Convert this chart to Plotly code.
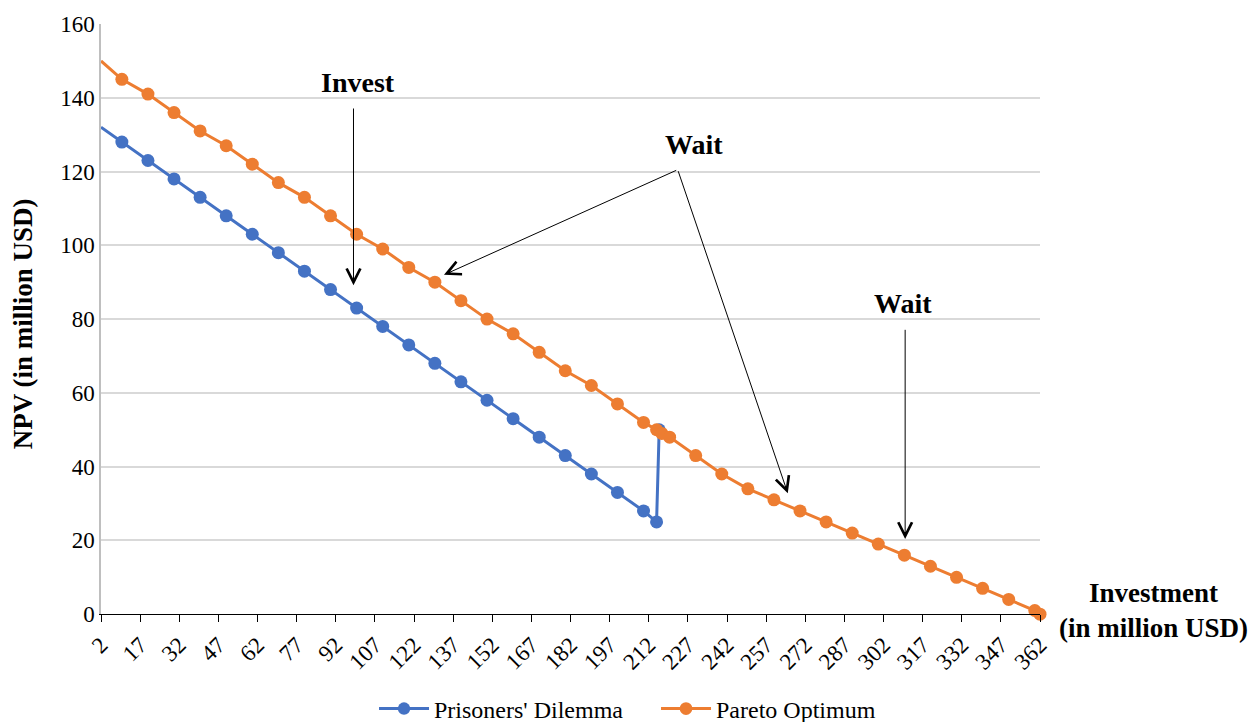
import plotly.graph_objects as go

# Investment levels (million USD) and NPV (million USD) for each strategy
pd_invest = [2, 10, 20, 30, 40, 50, 60, 70, 80, 90, 100, 110, 120, 130, 140,
             150, 160, 170, 180, 190, 200, 210, 215, 216]
pd_npv = [132, 128, 123, 118, 113, 108, 103, 98, 93, 88, 83, 78, 73, 68, 63,
          58, 53, 48, 43, 38, 33, 28, 25, 50]

po_invest = [2, 10, 20, 30, 40, 50, 60, 70, 80, 90, 100, 110, 120, 130, 140,
             150, 160, 170, 180, 190, 200, 210, 215, 217, 220, 230, 240, 250,
             260, 270, 280, 290, 300, 310, 320, 330, 340, 350, 360, 362]
po_npv = [150, 145, 141, 136, 131, 127, 122, 117, 113, 108, 103, 99, 94, 90, 85,
          80, 76, 71, 66, 62, 57, 52, 50, 49, 48, 43, 38, 34,
          31, 28, 25, 22, 19, 16, 13, 10, 7, 4, 1, 0]

x_ticks = list(range(2, 363, 15))
y_ticks = [0, 20, 40, 60, 80, 100, 120, 140, 160]

BLUE = "#4472C4"
ORANGE = "#ED7D31"
FONT = "Liberation Serif"


def marker_sizes(n, size=13):
    # the opening point of each series is drawn without a marker
    return [0] + [size] * (n - 1)


fig = go.Figure()
fig.add_trace(go.Scatter(
    x=pd_invest, y=pd_npv, name="Prisoners' Dilemma", mode="lines+markers",
    line=dict(color=BLUE, width=3),
    marker=dict(color=BLUE, size=marker_sizes(len(pd_invest)), opacity=1,
                line=dict(width=0)),
    cliponaxis=False,
))
fig.add_trace(go.Scatter(
    x=po_invest, y=po_npv, name="Pareto Optimum", mode="lines+markers",
    line=dict(color=ORANGE, width=3),
    marker=dict(color=ORANGE, size=marker_sizes(len(po_invest)), opacity=1,
                line=dict(width=0)),
    cliponaxis=False,
))

# Decision labels and their arrows
labels = [("Invest", 100.5, 144.2), ("Wait", 229.3, 127.3), ("Wait", 309.4, 84.3)]
arrows = [  # (tail x, tail y, tip x, tip y)
    (98.8, 137.5, 98.8, 89.2),
    (223.1, 120.5, 133.5, 92.0),
    (223.1, 120.5, 265.3, 32.8),
    (310.3, 77.5, 310.3, 20.4),
]

annotations = []
for text, lx, ly in labels:
    annotations.append(dict(
        x=lx, y=ly, xref="x", yref="y", text=f"<b>{text}</b>", showarrow=False,
        font=dict(family=FONT, size=28, color="black"),
        xanchor="center", yanchor="middle",
    ))
for tx, ty, hx, hy in arrows:
    annotations.append(dict(
        x=hx, y=hy, ax=tx, ay=ty, xref="x", yref="y", axref="x", ayref="y",
        text="", showarrow=True, arrowhead=5, arrowsize=2.7, arrowwidth=1,
        arrowcolor="black", standoff=0, startstandoff=0,
    ))

# Axis titles
annotations.append(dict(
    x=1.1213, y=0.0067, xref="paper", yref="paper",
    text="<b>Investment<br>(in million USD)</b>", showarrow=False,
    font=dict(family=FONT, size=27, color="black"),
    xanchor="center", yanchor="middle", align="center",
))
annotations.append(dict(
    x=-0.0837, y=0.492, xref="paper", yref="paper",
    text="<b>NPV (in million USD)</b>", showarrow=False, textangle=-90,
    font=dict(family=FONT, size=27, color="black"),
    xanchor="center", yanchor="middle",
))

fig.update_layout(
    width=1253, height=722,
    margin=dict(l=101, r=213, t=18, b=103),
    paper_bgcolor="white", plot_bgcolor="white",
    font=dict(family=FONT, size=23, color="black"),
    showlegend=True,
    legend=dict(
        orientation="h", xref="container", yref="container",
        x=0.2985, xanchor="left", y=0.018, yanchor="middle",
        font=dict(family=FONT, size=24, color="black"),
        itemwidth=50, entrywidth=217, entrywidthmode="pixels",
    ),
    annotations=annotations,
)

fig.update_xaxes(
    range=[2, 362], tickmode="array", tickvals=x_ticks,
    ticktext=[str(v) for v in x_ticks], tickangle=-45,
    showgrid=False, zeroline=False,
    showline=True, linecolor="black", linewidth=1.3,
    ticks="outside", ticklen=7, tickwidth=1.3, tickcolor="black",
    tickfont=dict(family=FONT, size=23, color="black"),
)
fig.update_yaxes(
    range=[0, 160], tickmode="array", tickvals=y_ticks,
    showgrid=True, gridcolor="#d9d9d9", gridwidth=1.5,
    zeroline=False, showline=True, linecolor="#bfbfbf", linewidth=1.5,
    ticks="", ticklabelstandoff=0,
    tickfont=dict(family=FONT, size=23, color="black"),
)

fig.write_html("out.html")
